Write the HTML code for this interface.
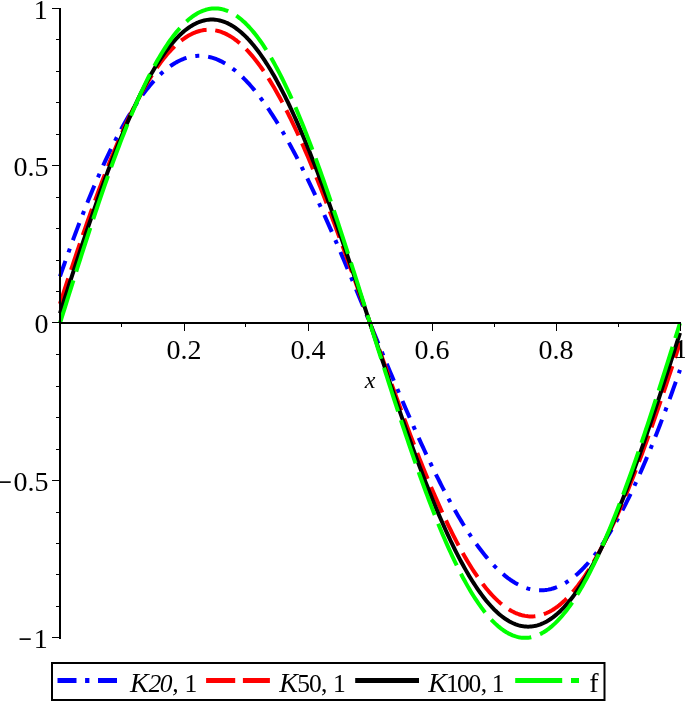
<!DOCTYPE html>
<html><head><meta charset="utf-8"><title>plot</title>
<style>html,body{margin:0;padding:0;background:#fff;}svg{display:block;}</style></head><body>
<svg width="685" height="701" viewBox="0 0 685 701">
<rect width="685" height="701" fill="#fff"/>
<path d="M60.00,276.37 L61.55,271.92 L63.10,267.50 L64.65,263.11 L66.20,258.75 L67.75,254.42 L69.30,250.12 L70.85,245.86 L72.40,241.63 L73.95,237.43 L75.50,233.27 L77.05,229.15 L78.60,225.06 L80.15,221.01 L81.70,216.99 L83.25,213.02 L84.80,209.08 L86.35,205.18 L87.90,201.32 L89.45,197.51 L91.00,193.73 L92.55,190.00 L94.10,186.31 L95.65,182.66 L97.20,179.05 L98.75,175.49 L100.30,171.97 L101.85,168.50 L103.40,165.07 L104.95,161.69 L106.50,158.36 L108.05,155.07 L109.60,151.83 L111.15,148.64 L112.70,145.49 L114.25,142.40 L115.80,139.35 L117.35,136.36 L118.90,133.41 L120.45,130.51 L122.00,127.67 L123.55,124.87 L125.10,122.13 L126.65,119.44 L128.20,116.80 L129.75,114.22 L131.30,111.68 L132.85,109.20 L134.40,106.78 L135.95,104.41 L137.50,102.09 L139.05,99.82 L140.60,97.62 L142.15,95.46 L143.70,93.36 L145.25,91.32 L146.80,89.33 L148.35,87.40 L149.90,85.52 L151.45,83.70 L153.00,81.94 L154.55,80.23 L156.10,78.59 L157.65,76.99 L159.20,75.46 L160.75,73.98 L162.30,72.56 L163.85,71.20 L165.40,69.89 L166.95,68.64 L168.50,67.45 L170.05,66.32 L171.60,65.25 L173.15,64.23 L174.70,63.27 L176.25,62.37 L177.80,61.53 L179.35,60.74 L180.90,60.02 L182.45,59.35 L184.00,58.74 L185.55,58.19 L187.10,57.70 L188.65,57.26 L190.20,56.88 L191.75,56.56 L193.30,56.30 L194.85,56.10 L196.40,55.95 L197.95,55.86 L199.50,55.83 L201.05,55.86 L202.60,55.94 L204.15,56.08 L205.70,56.28 L207.25,56.53 L208.80,56.84 L210.35,57.21 L211.90,57.63 L213.45,58.11 L215.00,58.64 L216.55,59.23 L218.10,59.88 L219.65,60.58 L221.20,61.33 L222.75,62.14 L224.30,63.01 L225.85,63.93 L227.40,64.90 L228.95,65.92 L230.50,67.00 L232.05,68.13 L233.60,69.32 L235.15,70.55 L236.70,71.84 L238.25,73.18 L239.80,74.57 L241.35,76.01 L242.90,77.51 L244.45,79.05 L246.00,80.64 L247.55,82.28 L249.10,83.97 L250.65,85.71 L252.20,87.50 L253.75,89.34 L255.30,91.22 L256.85,93.15 L258.40,95.12 L259.95,97.14 L261.50,99.21 L263.05,101.32 L264.60,103.48 L266.15,105.68 L267.70,107.92 L269.25,110.21 L270.80,112.54 L272.35,114.91 L273.90,117.33 L275.45,119.78 L277.00,122.28 L278.55,124.81 L280.10,127.39 L281.65,130.00 L283.20,132.65 L284.75,135.34 L286.30,138.07 L287.85,140.83 L289.40,143.63 L290.95,146.47 L292.50,149.34 L294.05,152.24 L295.60,155.18 L297.15,158.15 L298.70,161.16 L300.25,164.19 L301.80,167.26 L303.35,170.36 L304.90,173.49 L306.45,176.64 L308.00,179.83 L309.55,183.04 L311.10,186.29 L312.65,189.55 L314.20,192.85 L315.75,196.17 L317.30,199.51 L318.85,202.88 L320.40,206.28 L321.95,209.69 L323.50,213.13 L325.05,216.59 L326.60,220.07 L328.15,223.57 L329.70,227.09 L331.25,230.63 L332.80,234.18 L334.35,237.76 L335.90,241.35 L337.45,244.96 L339.00,248.58 L340.55,252.21 L342.10,255.86 L343.65,259.53 L345.20,263.20 L346.75,266.89 L348.30,270.59 L349.85,274.29 L351.40,278.01 L352.95,281.74 L354.50,285.47 L356.05,289.22 L357.60,292.96 L359.15,296.72 L360.70,300.48 L362.25,304.24 L363.80,308.01 L365.35,311.78 L366.90,315.55 L368.45,319.33 L370.00,323.10 L371.55,326.87 L373.10,330.65 L374.65,334.42 L376.20,338.19 L377.75,341.96 L379.30,345.72 L380.85,349.48 L382.40,353.24 L383.95,356.98 L385.50,360.73 L387.05,364.46 L388.60,368.19 L390.15,371.91 L391.70,375.61 L393.25,379.31 L394.80,383.00 L396.35,386.67 L397.90,390.34 L399.45,393.99 L401.00,397.62 L402.55,401.24 L404.10,404.85 L405.65,408.44 L407.20,412.02 L408.75,415.57 L410.30,419.11 L411.85,422.63 L413.40,426.13 L414.95,429.61 L416.50,433.07 L418.05,436.51 L419.60,439.92 L421.15,443.32 L422.70,446.69 L424.25,450.03 L425.80,453.35 L427.35,456.65 L428.90,459.91 L430.45,463.16 L432.00,466.37 L433.55,469.56 L435.10,472.71 L436.65,475.84 L438.20,478.94 L439.75,482.01 L441.30,485.04 L442.85,488.05 L444.40,491.02 L445.95,493.96 L447.50,496.86 L449.05,499.73 L450.60,502.57 L452.15,505.37 L453.70,508.13 L455.25,510.86 L456.80,513.55 L458.35,516.20 L459.90,518.81 L461.45,521.39 L463.00,523.92 L464.55,526.42 L466.10,528.87 L467.65,531.29 L469.20,533.66 L470.75,535.99 L472.30,538.28 L473.85,540.52 L475.40,542.72 L476.95,544.88 L478.50,546.99 L480.05,549.06 L481.60,551.08 L483.15,553.05 L484.70,554.98 L486.25,556.86 L487.80,558.70 L489.35,560.49 L490.90,562.23 L492.45,563.92 L494.00,565.56 L495.55,567.15 L497.10,568.69 L498.65,570.19 L500.20,571.63 L501.75,573.02 L503.30,574.36 L504.85,575.65 L506.40,576.88 L507.95,578.07 L509.50,579.20 L511.05,580.28 L512.60,581.30 L514.15,582.27 L515.70,583.19 L517.25,584.06 L518.80,584.87 L520.35,585.62 L521.90,586.32 L523.45,586.97 L525.00,587.56 L526.55,588.09 L528.10,588.57 L529.65,588.99 L531.20,589.36 L532.75,589.67 L534.30,589.92 L535.85,590.12 L537.40,590.26 L538.95,590.34 L540.50,590.37 L542.05,590.34 L543.60,590.25 L545.15,590.10 L546.70,589.90 L548.25,589.64 L549.80,589.32 L551.35,588.94 L552.90,588.50 L554.45,588.01 L556.00,587.46 L557.55,586.85 L559.10,586.18 L560.65,585.46 L562.20,584.67 L563.75,583.83 L565.30,582.93 L566.85,581.97 L568.40,580.95 L569.95,579.88 L571.50,578.75 L573.05,577.56 L574.60,576.31 L576.15,575.00 L577.70,573.64 L579.25,572.22 L580.80,570.74 L582.35,569.21 L583.90,567.61 L585.45,565.97 L587.00,564.26 L588.55,562.50 L590.10,560.68 L591.65,558.80 L593.20,556.87 L594.75,554.88 L596.30,552.84 L597.85,550.74 L599.40,548.58 L600.95,546.38 L602.50,544.11 L604.05,541.79 L605.60,539.42 L607.15,537.00 L608.70,534.52 L610.25,531.98 L611.80,529.40 L613.35,526.76 L614.90,524.07 L616.45,521.33 L618.00,518.53 L619.55,515.69 L621.10,512.79 L622.65,509.84 L624.20,506.85 L625.75,503.80 L627.30,500.71 L628.85,497.56 L630.40,494.37 L631.95,491.13 L633.50,487.84 L635.05,484.51 L636.60,481.13 L638.15,477.70 L639.70,474.23 L641.25,470.71 L642.80,467.15 L644.35,463.54 L645.90,459.89 L647.45,456.20 L649.00,452.47 L650.55,448.69 L652.10,444.88 L653.65,441.02 L655.20,437.12 L656.75,433.18 L658.30,429.21 L659.85,425.19 L661.40,421.14 L662.95,417.05 L664.50,412.93 L666.05,408.77 L667.60,404.57 L669.15,400.34 L670.70,396.08 L672.25,391.78 L673.80,387.45 L675.35,383.09 L676.90,378.70 L678.45,374.28 L680.00,369.83" fill="none" stroke="#0000ff" stroke-width="4" stroke-linejoin="round" stroke-dasharray="18.4 9 4 8.93" stroke-dashoffset="2.0"/>
<path d="M60.00,303.74 L61.55,298.94 L63.10,294.16 L64.65,289.39 L66.20,284.64 L67.75,279.91 L69.30,275.20 L70.85,270.50 L72.40,265.83 L73.95,261.18 L75.50,256.55 L77.05,251.94 L78.60,247.36 L80.15,242.80 L81.70,238.27 L83.25,233.77 L84.80,229.30 L86.35,224.85 L87.90,220.44 L89.45,216.06 L91.00,211.71 L92.55,207.39 L94.10,203.11 L95.65,198.86 L97.20,194.65 L98.75,190.47 L100.30,186.33 L101.85,182.24 L103.40,178.18 L104.95,174.16 L106.50,170.18 L108.05,166.24 L109.60,162.34 L111.15,158.49 L112.70,154.69 L114.25,150.92 L115.80,147.21 L117.35,143.54 L118.90,139.91 L120.45,136.34 L122.00,132.81 L123.55,129.34 L125.10,125.91 L126.65,122.54 L128.20,119.21 L129.75,115.94 L131.30,112.72 L132.85,109.55 L134.40,106.44 L135.95,103.39 L137.50,100.39 L139.05,97.44 L140.60,94.55 L142.15,91.72 L143.70,88.95 L145.25,86.23 L146.80,83.57 L148.35,80.97 L149.90,78.44 L151.45,75.96 L153.00,73.54 L154.55,71.18 L156.10,68.89 L157.65,66.66 L159.20,64.49 L160.75,62.38 L162.30,60.33 L163.85,58.35 L165.40,56.44 L166.95,54.59 L168.50,52.80 L170.05,51.08 L171.60,49.42 L173.15,47.83 L174.70,46.30 L176.25,44.84 L177.80,43.45 L179.35,42.12 L180.90,40.86 L182.45,39.67 L184.00,38.54 L185.55,37.49 L187.10,36.50 L188.65,35.57 L190.20,34.72 L191.75,33.93 L193.30,33.21 L194.85,32.56 L196.40,31.98 L197.95,31.47 L199.50,31.02 L201.05,30.64 L202.60,30.34 L204.15,30.10 L205.70,29.92 L207.25,29.82 L208.80,29.79 L210.35,29.82 L211.90,29.92 L213.45,30.09 L215.00,30.33 L216.55,30.63 L218.10,31.01 L219.65,31.45 L221.20,31.95 L222.75,32.53 L224.30,33.17 L225.85,33.88 L227.40,34.66 L228.95,35.50 L230.50,36.41 L232.05,37.38 L233.60,38.43 L235.15,39.53 L236.70,40.70 L238.25,41.94 L239.80,43.24 L241.35,44.60 L242.90,46.03 L244.45,47.52 L246.00,49.08 L247.55,50.69 L249.10,52.37 L250.65,54.12 L252.20,55.92 L253.75,57.78 L255.30,59.71 L256.85,61.69 L258.40,63.73 L259.95,65.84 L261.50,68.00 L263.05,70.22 L264.60,72.49 L266.15,74.83 L267.70,77.21 L269.25,79.66 L270.80,82.16 L272.35,84.72 L273.90,87.33 L275.45,89.99 L277.00,92.70 L278.55,95.47 L280.10,98.29 L281.65,101.16 L283.20,104.08 L284.75,107.05 L286.30,110.07 L287.85,113.13 L289.40,116.25 L290.95,119.41 L292.50,122.62 L294.05,125.87 L295.60,129.16 L297.15,132.50 L298.70,135.89 L300.25,139.31 L301.80,142.78 L303.35,146.28 L304.90,149.83 L306.45,153.42 L308.00,157.04 L309.55,160.70 L311.10,164.40 L312.65,168.13 L314.20,171.90 L315.75,175.70 L317.30,179.54 L318.85,183.40 L320.40,187.30 L321.95,191.23 L323.50,195.19 L325.05,199.18 L326.60,203.19 L328.15,207.23 L329.70,211.30 L331.25,215.40 L332.80,219.51 L334.35,223.65 L335.90,227.82 L337.45,232.00 L339.00,236.20 L340.55,240.43 L342.10,244.67 L343.65,248.93 L345.20,253.21 L346.75,257.50 L348.30,261.81 L349.85,266.13 L351.40,270.46 L352.95,274.81 L354.50,279.16 L356.05,283.53 L357.60,287.90 L359.15,292.28 L360.70,296.67 L362.25,301.07 L363.80,305.47 L365.35,309.87 L366.90,314.28 L368.45,318.69 L370.00,323.10 L371.55,327.51 L373.10,331.92 L374.65,336.33 L376.20,340.73 L377.75,345.13 L379.30,349.53 L380.85,353.92 L382.40,358.30 L383.95,362.67 L385.50,367.04 L387.05,371.39 L388.60,375.74 L390.15,380.07 L391.70,384.39 L393.25,388.70 L394.80,392.99 L396.35,397.27 L397.90,401.53 L399.45,405.77 L401.00,410.00 L402.55,414.20 L404.10,418.38 L405.65,422.55 L407.20,426.69 L408.75,430.80 L410.30,434.90 L411.85,438.97 L413.40,443.01 L414.95,447.02 L416.50,451.01 L418.05,454.97 L419.60,458.90 L421.15,462.80 L422.70,466.66 L424.25,470.50 L425.80,474.30 L427.35,478.07 L428.90,481.80 L430.45,485.50 L432.00,489.16 L433.55,492.78 L435.10,496.37 L436.65,499.92 L438.20,503.42 L439.75,506.89 L441.30,510.31 L442.85,513.70 L444.40,517.04 L445.95,520.33 L447.50,523.58 L449.05,526.79 L450.60,529.95 L452.15,533.07 L453.70,536.13 L455.25,539.15 L456.80,542.12 L458.35,545.04 L459.90,547.91 L461.45,550.73 L463.00,553.50 L464.55,556.21 L466.10,558.87 L467.65,561.48 L469.20,564.04 L470.75,566.54 L472.30,568.99 L473.85,571.37 L475.40,573.71 L476.95,575.98 L478.50,578.20 L480.05,580.36 L481.60,582.47 L483.15,584.51 L484.70,586.49 L486.25,588.42 L487.80,590.28 L489.35,592.08 L490.90,593.83 L492.45,595.51 L494.00,597.12 L495.55,598.68 L497.10,600.17 L498.65,601.60 L500.20,602.96 L501.75,604.26 L503.30,605.50 L504.85,606.67 L506.40,607.77 L507.95,608.82 L509.50,609.79 L511.05,610.70 L512.60,611.54 L514.15,612.32 L515.70,613.03 L517.25,613.67 L518.80,614.25 L520.35,614.75 L521.90,615.19 L523.45,615.57 L525.00,615.87 L526.55,616.11 L528.10,616.28 L529.65,616.38 L531.20,616.41 L532.75,616.38 L534.30,616.28 L535.85,616.10 L537.40,615.86 L538.95,615.56 L540.50,615.18 L542.05,614.73 L543.60,614.22 L545.15,613.64 L546.70,612.99 L548.25,612.27 L549.80,611.48 L551.35,610.63 L552.90,609.70 L554.45,608.71 L556.00,607.66 L557.55,606.53 L559.10,605.34 L560.65,604.08 L562.20,602.75 L563.75,601.36 L565.30,599.90 L566.85,598.37 L568.40,596.78 L569.95,595.12 L571.50,593.40 L573.05,591.61 L574.60,589.76 L576.15,587.85 L577.70,585.87 L579.25,583.82 L580.80,581.71 L582.35,579.54 L583.90,577.31 L585.45,575.02 L587.00,572.66 L588.55,570.24 L590.10,567.76 L591.65,565.23 L593.20,562.63 L594.75,559.97 L596.30,557.25 L597.85,554.48 L599.40,551.65 L600.95,548.76 L602.50,545.81 L604.05,542.81 L605.60,539.76 L607.15,536.65 L608.70,533.48 L610.25,530.26 L611.80,526.99 L613.35,523.66 L614.90,520.29 L616.45,516.86 L618.00,513.39 L619.55,509.86 L621.10,506.29 L622.65,502.66 L624.20,498.99 L625.75,495.28 L627.30,491.51 L628.85,487.71 L630.40,483.86 L631.95,479.96 L633.50,476.02 L635.05,472.04 L636.60,468.02 L638.15,463.96 L639.70,459.87 L641.25,455.73 L642.80,451.55 L644.35,447.34 L645.90,443.09 L647.45,438.81 L649.00,434.49 L650.55,430.14 L652.10,425.76 L653.65,421.35 L655.20,416.90 L656.75,412.43 L658.30,407.93 L659.85,403.40 L661.40,398.84 L662.95,394.26 L664.50,389.65 L666.05,385.02 L667.60,380.37 L669.15,375.70 L670.70,371.00 L672.25,366.29 L673.80,361.56 L675.35,356.81 L676.90,352.04 L678.45,347.26 L680.00,342.46" fill="none" stroke="#ff0000" stroke-width="4" stroke-linejoin="round" stroke-dasharray="28.0 8.7" stroke-dashoffset="1.2"/>
<path d="M60.00,313.31 L61.55,308.43 L63.10,303.56 L64.65,298.70 L66.20,293.85 L67.75,289.01 L69.30,284.18 L70.85,279.37 L72.40,274.57 L73.95,269.79 L75.50,265.02 L77.05,260.27 L78.60,255.55 L80.15,250.84 L81.70,246.15 L83.25,241.49 L84.80,236.85 L86.35,232.23 L87.90,227.64 L89.45,223.08 L91.00,218.55 L92.55,214.04 L94.10,209.56 L95.65,205.12 L97.20,200.71 L98.75,196.33 L100.30,191.98 L101.85,187.67 L103.40,183.40 L104.95,179.16 L106.50,174.96 L108.05,170.80 L109.60,166.68 L111.15,162.60 L112.70,158.56 L114.25,154.56 L115.80,150.61 L117.35,146.70 L118.90,142.84 L120.45,139.02 L122.00,135.25 L123.55,131.53 L125.10,127.85 L126.65,124.23 L128.20,120.66 L129.75,117.13 L131.30,113.66 L132.85,110.25 L134.40,106.88 L135.95,103.57 L137.50,100.32 L139.05,97.12 L140.60,93.97 L142.15,90.89 L143.70,87.86 L145.25,84.89 L146.80,81.98 L148.35,79.13 L149.90,76.34 L151.45,73.61 L153.00,70.94 L154.55,68.33 L156.10,65.79 L157.65,63.31 L159.20,60.89 L160.75,58.54 L162.30,56.26 L163.85,54.03 L165.40,51.88 L166.95,49.79 L168.50,47.77 L170.05,45.81 L171.60,43.92 L173.15,42.10 L174.70,40.35 L176.25,38.67 L177.80,37.06 L179.35,35.51 L180.90,34.04 L182.45,32.63 L184.00,31.30 L185.55,30.04 L187.10,28.84 L188.65,27.72 L190.20,26.67 L191.75,25.69 L193.30,24.79 L194.85,23.95 L196.40,23.19 L197.95,22.50 L199.50,21.88 L201.05,21.34 L202.60,20.86 L204.15,20.46 L205.70,20.14 L207.25,19.88 L208.80,19.70 L210.35,19.59 L211.90,19.55 L213.45,19.59 L215.00,19.70 L216.55,19.88 L218.10,20.13 L219.65,20.46 L221.20,20.86 L222.75,21.33 L224.30,21.87 L225.85,22.49 L227.40,23.17 L228.95,23.93 L230.50,24.76 L232.05,25.66 L233.60,26.63 L235.15,27.67 L236.70,28.79 L238.25,29.97 L239.80,31.22 L241.35,32.54 L242.90,33.93 L244.45,35.39 L246.00,36.92 L247.55,38.51 L249.10,40.18 L250.65,41.91 L252.20,43.71 L253.75,45.57 L255.30,47.50 L256.85,49.49 L258.40,51.55 L259.95,53.67 L261.50,55.86 L263.05,58.11 L264.60,60.43 L266.15,62.80 L267.70,65.24 L269.25,67.74 L270.80,70.30 L272.35,72.91 L273.90,75.59 L275.45,78.33 L277.00,81.12 L278.55,83.97 L280.10,86.88 L281.65,89.84 L283.20,92.86 L284.75,95.93 L286.30,99.06 L287.85,102.24 L289.40,105.47 L290.95,108.75 L292.50,112.09 L294.05,115.47 L295.60,118.90 L297.15,122.38 L298.70,125.91 L300.25,129.48 L301.80,133.10 L303.35,136.76 L304.90,140.47 L306.45,144.22 L308.00,148.02 L309.55,151.85 L311.10,155.72 L312.65,159.64 L314.20,163.59 L315.75,167.58 L317.30,171.61 L318.85,175.67 L320.40,179.77 L321.95,183.90 L323.50,188.06 L325.05,192.26 L326.60,196.48 L328.15,200.74 L329.70,205.02 L331.25,209.33 L332.80,213.67 L334.35,218.04 L335.90,222.43 L337.45,226.84 L339.00,231.27 L340.55,235.73 L342.10,240.21 L343.65,244.71 L345.20,249.22 L346.75,253.76 L348.30,258.30 L349.85,262.87 L351.40,267.45 L352.95,272.04 L354.50,276.64 L356.05,281.26 L357.60,285.88 L359.15,290.52 L360.70,295.16 L362.25,299.80 L363.80,304.46 L365.35,309.11 L366.90,313.77 L368.45,318.44 L370.00,323.10 L371.55,327.76 L373.10,332.43 L374.65,337.09 L376.20,341.74 L377.75,346.40 L379.30,351.04 L380.85,355.68 L382.40,360.32 L383.95,364.94 L385.50,369.56 L387.05,374.16 L388.60,378.75 L390.15,383.33 L391.70,387.90 L393.25,392.44 L394.80,396.98 L396.35,401.49 L397.90,405.99 L399.45,410.47 L401.00,414.93 L402.55,419.36 L404.10,423.77 L405.65,428.16 L407.20,432.53 L408.75,436.87 L410.30,441.18 L411.85,445.46 L413.40,449.72 L414.95,453.94 L416.50,458.14 L418.05,462.30 L419.60,466.43 L421.15,470.53 L422.70,474.59 L424.25,478.62 L425.80,482.61 L427.35,486.56 L428.90,490.48 L430.45,494.35 L432.00,498.18 L433.55,501.98 L435.10,505.73 L436.65,509.44 L438.20,513.10 L439.75,516.72 L441.30,520.29 L442.85,523.82 L444.40,527.30 L445.95,530.73 L447.50,534.11 L449.05,537.45 L450.60,540.73 L452.15,543.96 L453.70,547.14 L455.25,550.27 L456.80,553.34 L458.35,556.36 L459.90,559.32 L461.45,562.23 L463.00,565.08 L464.55,567.87 L466.10,570.61 L467.65,573.29 L469.20,575.90 L470.75,578.46 L472.30,580.96 L473.85,583.40 L475.40,585.77 L476.95,588.09 L478.50,590.34 L480.05,592.53 L481.60,594.65 L483.15,596.71 L484.70,598.70 L486.25,600.63 L487.80,602.49 L489.35,604.29 L490.90,606.02 L492.45,607.69 L494.00,609.28 L495.55,610.81 L497.10,612.27 L498.65,613.66 L500.20,614.98 L501.75,616.23 L503.30,617.41 L504.85,618.53 L506.40,619.57 L507.95,620.54 L509.50,621.44 L511.05,622.27 L512.60,623.03 L514.15,623.71 L515.70,624.33 L517.25,624.87 L518.80,625.34 L520.35,625.74 L521.90,626.07 L523.45,626.32 L525.00,626.50 L526.55,626.61 L528.10,626.65 L529.65,626.61 L531.20,626.50 L532.75,626.32 L534.30,626.06 L535.85,625.74 L537.40,625.34 L538.95,624.86 L540.50,624.32 L542.05,623.70 L543.60,623.01 L545.15,622.25 L546.70,621.41 L548.25,620.51 L549.80,619.53 L551.35,618.48 L552.90,617.36 L554.45,616.16 L556.00,614.90 L557.55,613.57 L559.10,612.16 L560.65,610.69 L562.20,609.14 L563.75,607.53 L565.30,605.85 L566.85,604.10 L568.40,602.28 L569.95,600.39 L571.50,598.43 L573.05,596.41 L574.60,594.32 L576.15,592.17 L577.70,589.94 L579.25,587.66 L580.80,585.31 L582.35,582.89 L583.90,580.41 L585.45,577.87 L587.00,575.26 L588.55,572.59 L590.10,569.86 L591.65,567.07 L593.20,564.22 L594.75,561.31 L596.30,558.34 L597.85,555.31 L599.40,552.23 L600.95,549.08 L602.50,545.88 L604.05,542.63 L605.60,539.32 L607.15,535.95 L608.70,532.54 L610.25,529.07 L611.80,525.54 L613.35,521.97 L614.90,518.35 L616.45,514.67 L618.00,510.95 L619.55,507.18 L621.10,503.36 L622.65,499.50 L624.20,495.59 L625.75,491.64 L627.30,487.64 L628.85,483.60 L630.40,479.52 L631.95,475.40 L633.50,471.24 L635.05,467.04 L636.60,462.80 L638.15,458.53 L639.70,454.22 L641.25,449.87 L642.80,445.49 L644.35,441.08 L645.90,436.64 L647.45,432.16 L649.00,427.65 L650.55,423.12 L652.10,418.56 L653.65,413.97 L655.20,409.35 L656.75,404.71 L658.30,400.05 L659.85,395.36 L661.40,390.65 L662.95,385.93 L664.50,381.18 L666.05,376.41 L667.60,371.63 L669.15,366.83 L670.70,362.02 L672.25,357.19 L673.80,352.35 L675.35,347.50 L676.90,342.64 L678.45,337.77 L680.00,332.89" fill="none" stroke="#000000" stroke-width="4" stroke-linejoin="round"/>
<path d="M60.00,323.10 L61.55,318.16 L63.10,313.22 L64.65,308.28 L66.20,303.34 L67.75,298.41 L69.30,293.48 L70.85,288.57 L72.40,283.66 L73.95,278.76 L75.50,273.87 L77.05,268.99 L78.60,264.13 L80.15,259.28 L81.70,254.45 L83.25,249.63 L84.80,244.84 L86.35,240.06 L87.90,235.30 L89.45,230.57 L91.00,225.85 L92.55,221.16 L94.10,216.50 L95.65,211.86 L97.20,207.25 L98.75,202.67 L100.30,198.12 L101.85,193.60 L103.40,189.11 L104.95,184.65 L106.50,180.23 L108.05,175.84 L109.60,171.49 L111.15,167.18 L112.70,162.90 L114.25,158.67 L115.80,154.48 L117.35,150.32 L118.90,146.21 L120.45,142.15 L122.00,138.12 L123.55,134.15 L125.10,130.22 L126.65,126.34 L128.20,122.50 L129.75,118.72 L131.30,114.99 L132.85,111.30 L134.40,107.67 L135.95,104.10 L137.50,100.57 L139.05,97.11 L140.60,93.69 L142.15,90.34 L143.70,87.04 L145.25,83.80 L146.80,80.62 L148.35,77.50 L149.90,74.44 L151.45,71.44 L153.00,68.50 L154.55,65.63 L156.10,62.82 L157.65,60.07 L159.20,57.39 L160.75,54.77 L162.30,52.22 L163.85,49.74 L165.40,47.33 L166.95,44.98 L168.50,42.70 L170.05,40.49 L171.60,38.35 L173.15,36.28 L174.70,34.28 L176.25,32.36 L177.80,30.50 L179.35,28.72 L180.90,27.00 L182.45,25.37 L184.00,23.80 L185.55,22.31 L187.10,20.90 L188.65,19.55 L190.20,18.29 L191.75,17.10 L193.30,15.98 L194.85,14.94 L196.40,13.97 L197.95,13.09 L199.50,12.27 L201.05,11.54 L202.60,10.88 L204.15,10.30 L205.70,9.80 L207.25,9.37 L208.80,9.02 L210.35,8.75 L211.90,8.56 L213.45,8.44 L215.00,8.40 L216.55,8.44 L218.10,8.56 L219.65,8.75 L221.20,9.02 L222.75,9.37 L224.30,9.80 L225.85,10.30 L227.40,10.88 L228.95,11.54 L230.50,12.27 L232.05,13.09 L233.60,13.97 L235.15,14.94 L236.70,15.98 L238.25,17.10 L239.80,18.29 L241.35,19.55 L242.90,20.90 L244.45,22.31 L246.00,23.80 L247.55,25.37 L249.10,27.00 L250.65,28.72 L252.20,30.50 L253.75,32.36 L255.30,34.28 L256.85,36.28 L258.40,38.35 L259.95,40.49 L261.50,42.70 L263.05,44.98 L264.60,47.33 L266.15,49.74 L267.70,52.22 L269.25,54.77 L270.80,57.39 L272.35,60.07 L273.90,62.82 L275.45,65.63 L277.00,68.50 L278.55,71.44 L280.10,74.44 L281.65,77.50 L283.20,80.62 L284.75,83.80 L286.30,87.04 L287.85,90.34 L289.40,93.69 L290.95,97.11 L292.50,100.57 L294.05,104.10 L295.60,107.67 L297.15,111.30 L298.70,114.99 L300.25,118.72 L301.80,122.50 L303.35,126.34 L304.90,130.22 L306.45,134.15 L308.00,138.12 L309.55,142.15 L311.10,146.21 L312.65,150.32 L314.20,154.48 L315.75,158.67 L317.30,162.90 L318.85,167.18 L320.40,171.49 L321.95,175.84 L323.50,180.23 L325.05,184.65 L326.60,189.11 L328.15,193.60 L329.70,198.12 L331.25,202.67 L332.80,207.25 L334.35,211.86 L335.90,216.50 L337.45,221.16 L339.00,225.85 L340.55,230.57 L342.10,235.30 L343.65,240.06 L345.20,244.84 L346.75,249.63 L348.30,254.45 L349.85,259.28 L351.40,264.13 L352.95,268.99 L354.50,273.87 L356.05,278.76 L357.60,283.66 L359.15,288.57 L360.70,293.48 L362.25,298.41 L363.80,303.34 L365.35,308.28 L366.90,313.22 L368.45,318.16 L370.00,323.10 L371.55,328.04 L373.10,332.98 L374.65,337.92 L376.20,342.86 L377.75,347.79 L379.30,352.72 L380.85,357.63 L382.40,362.54 L383.95,367.44 L385.50,372.33 L387.05,377.21 L388.60,382.07 L390.15,386.92 L391.70,391.75 L393.25,396.57 L394.80,401.36 L396.35,406.14 L397.90,410.90 L399.45,415.63 L401.00,420.35 L402.55,425.04 L404.10,429.70 L405.65,434.34 L407.20,438.95 L408.75,443.53 L410.30,448.08 L411.85,452.60 L413.40,457.09 L414.95,461.55 L416.50,465.97 L418.05,470.36 L419.60,474.71 L421.15,479.02 L422.70,483.30 L424.25,487.53 L425.80,491.72 L427.35,495.88 L428.90,499.99 L430.45,504.05 L432.00,508.08 L433.55,512.05 L435.10,515.98 L436.65,519.86 L438.20,523.70 L439.75,527.48 L441.30,531.21 L442.85,534.90 L444.40,538.53 L445.95,542.10 L447.50,545.63 L449.05,549.09 L450.60,552.51 L452.15,555.86 L453.70,559.16 L455.25,562.40 L456.80,565.58 L458.35,568.70 L459.90,571.76 L461.45,574.76 L463.00,577.70 L464.55,580.57 L466.10,583.38 L467.65,586.13 L469.20,588.81 L470.75,591.43 L472.30,593.98 L473.85,596.46 L475.40,598.87 L476.95,601.22 L478.50,603.50 L480.05,605.71 L481.60,607.85 L483.15,609.92 L484.70,611.92 L486.25,613.84 L487.80,615.70 L489.35,617.48 L490.90,619.20 L492.45,620.83 L494.00,622.40 L495.55,623.89 L497.10,625.30 L498.65,626.65 L500.20,627.91 L501.75,629.10 L503.30,630.22 L504.85,631.26 L506.40,632.23 L507.95,633.11 L509.50,633.93 L511.05,634.66 L512.60,635.32 L514.15,635.90 L515.70,636.40 L517.25,636.83 L518.80,637.18 L520.35,637.45 L521.90,637.64 L523.45,637.76 L525.00,637.80 L526.55,637.76 L528.10,637.64 L529.65,637.45 L531.20,637.18 L532.75,636.83 L534.30,636.40 L535.85,635.90 L537.40,635.32 L538.95,634.66 L540.50,633.93 L542.05,633.11 L543.60,632.23 L545.15,631.26 L546.70,630.22 L548.25,629.10 L549.80,627.91 L551.35,626.65 L552.90,625.30 L554.45,623.89 L556.00,622.40 L557.55,620.83 L559.10,619.20 L560.65,617.48 L562.20,615.70 L563.75,613.84 L565.30,611.92 L566.85,609.92 L568.40,607.85 L569.95,605.71 L571.50,603.50 L573.05,601.22 L574.60,598.87 L576.15,596.46 L577.70,593.98 L579.25,591.43 L580.80,588.81 L582.35,586.13 L583.90,583.38 L585.45,580.57 L587.00,577.70 L588.55,574.76 L590.10,571.76 L591.65,568.70 L593.20,565.58 L594.75,562.40 L596.30,559.16 L597.85,555.86 L599.40,552.51 L600.95,549.09 L602.50,545.63 L604.05,542.10 L605.60,538.53 L607.15,534.90 L608.70,531.21 L610.25,527.48 L611.80,523.70 L613.35,519.86 L614.90,515.98 L616.45,512.05 L618.00,508.08 L619.55,504.05 L621.10,499.99 L622.65,495.88 L624.20,491.72 L625.75,487.53 L627.30,483.30 L628.85,479.02 L630.40,474.71 L631.95,470.36 L633.50,465.97 L635.05,461.55 L636.60,457.09 L638.15,452.60 L639.70,448.08 L641.25,443.53 L642.80,438.95 L644.35,434.34 L645.90,429.70 L647.45,425.04 L649.00,420.35 L650.55,415.63 L652.10,410.90 L653.65,406.14 L655.20,401.36 L656.75,396.57 L658.30,391.75 L659.85,386.92 L661.40,382.07 L662.95,377.21 L664.50,372.33 L666.05,367.44 L667.60,362.54 L669.15,357.63 L670.70,352.72 L672.25,347.79 L673.80,342.86 L675.35,337.92 L676.90,332.98 L678.45,328.04 L680.00,323.10" fill="none" stroke="#00ff00" stroke-width="4" stroke-linejoin="round" stroke-dasharray="45.8 9.25" stroke-dashoffset="1.0"/>
<g stroke="#000" fill="none">
<line x1="60" y1="8" x2="60" y2="639" stroke-width="2"/>
<line x1="59" y1="323" x2="681" y2="323" stroke-width="2"/>
<line x1="52" y1="637.5" x2="60" y2="637.5" stroke-width="1"/>
<line x1="56" y1="606.5" x2="60" y2="606.5" stroke-width="1"/>
<line x1="56" y1="574.5" x2="60" y2="574.5" stroke-width="1"/>
<line x1="56" y1="543.5" x2="60" y2="543.5" stroke-width="1"/>
<line x1="56" y1="512.5" x2="60" y2="512.5" stroke-width="1"/>
<line x1="52" y1="480.5" x2="60" y2="480.5" stroke-width="1"/>
<line x1="56" y1="449.5" x2="60" y2="449.5" stroke-width="1"/>
<line x1="56" y1="417.5" x2="60" y2="417.5" stroke-width="1"/>
<line x1="56" y1="386.5" x2="60" y2="386.5" stroke-width="1"/>
<line x1="56" y1="354.5" x2="60" y2="354.5" stroke-width="1"/>
<line x1="52" y1="322.5" x2="60" y2="322.5" stroke-width="1"/>
<line x1="56" y1="291.5" x2="60" y2="291.5" stroke-width="1"/>
<line x1="56" y1="260.5" x2="60" y2="260.5" stroke-width="1"/>
<line x1="56" y1="228.5" x2="60" y2="228.5" stroke-width="1"/>
<line x1="56" y1="197.5" x2="60" y2="197.5" stroke-width="1"/>
<line x1="52" y1="165.5" x2="60" y2="165.5" stroke-width="1"/>
<line x1="56" y1="134.5" x2="60" y2="134.5" stroke-width="1"/>
<line x1="56" y1="102.5" x2="60" y2="102.5" stroke-width="1"/>
<line x1="56" y1="71.5" x2="60" y2="71.5" stroke-width="1"/>
<line x1="56" y1="39.5" x2="60" y2="39.5" stroke-width="1"/>
<line x1="52" y1="8.5" x2="60" y2="8.5" stroke-width="1"/>
<line x1="121.5" y1="323" x2="121.5" y2="327" stroke-width="1"/>
<line x1="184.5" y1="323" x2="184.5" y2="331" stroke-width="1"/>
<line x1="245.5" y1="323" x2="245.5" y2="327" stroke-width="1"/>
<line x1="308.5" y1="323" x2="308.5" y2="331" stroke-width="1"/>
<line x1="369.5" y1="323" x2="369.5" y2="327" stroke-width="1"/>
<line x1="432.5" y1="323" x2="432.5" y2="331" stroke-width="1"/>
<line x1="494.5" y1="323" x2="494.5" y2="327" stroke-width="1"/>
<line x1="556.5" y1="323" x2="556.5" y2="331" stroke-width="1"/>
<line x1="618.5" y1="323" x2="618.5" y2="327" stroke-width="1"/>
<line x1="680.5" y1="323" x2="680.5" y2="331" stroke-width="1"/>
</g>
<g font-family="'Liberation Serif', 'Times New Roman', serif" font-size="28" fill="#000">
<text x="47.8" y="19.4" text-anchor="end">1</text>
<text x="48.6" y="175.6" text-anchor="end">0.5</text>
<text x="48.6" y="333" text-anchor="end">0</text>
<text x="48.6" y="490.8" text-anchor="end"><tspan font-size="24" font-weight="bold" dy="-0.8">−</tspan><tspan dy="0.8" dx="1.5">0.5</tspan></text>
<text x="47.8" y="648" text-anchor="end"><tspan font-size="24" font-weight="bold" dy="-0.8">−</tspan><tspan dy="0.8" dx="1.5">1</tspan></text>
<text x="184" y="358.6" text-anchor="middle">0.2</text>
<text x="308" y="358.6" text-anchor="middle">0.4</text>
<text x="432" y="358.6" text-anchor="middle">0.6</text>
<text x="556" y="358.6" text-anchor="middle">0.8</text>
<text x="673.8" y="358.4">1</text>
</g>
<text x="370" y="387.6" text-anchor="middle" font-family="'Liberation Serif', 'Times New Roman', serif" font-style="italic" font-size="24">x</text>
<rect x="52" y="663" width="552.5" height="37" fill="#fff" stroke="#000" stroke-width="2"/>
<line x1="57.5" y1="680.5" x2="121.3" y2="680.5" stroke="#0000ff" stroke-width="5" stroke-dasharray="19 8.6 4.3 8.6"/>
<line x1="206.1" y1="680.5" x2="269.9" y2="680.5" stroke="#ff0000" stroke-width="5" stroke-dasharray="29.1 7.7"/>
<line x1="355.2" y1="680.5" x2="419.0" y2="680.5" stroke="#000" stroke-width="5"/>
<line x1="515.2" y1="680.5" x2="579.0" y2="680.5" stroke="#00ff00" stroke-width="5" stroke-dasharray="47 8.8"/>
<text y="691.8" font-family="'Liberation Serif', 'Times New Roman', serif" fill="#000"><tspan x="130.12" font-size="28" font-style="italic">K</tspan><tspan x="148.40" font-size="25.5" font-style="italic">2</tspan><tspan x="159.74" font-size="25.5" font-style="italic">0</tspan><tspan x="172.14" font-size="25.5" font-style="italic">,</tspan><tspan x="180.00" font-size="25.5"> </tspan><tspan x="184.42" font-size="25.5">1</tspan></text>
<text y="691.8" font-family="'Liberation Serif', 'Times New Roman', serif" fill="#000"><tspan x="279.22" font-size="28" font-style="italic">K</tspan><tspan x="297.28" font-size="25.5">5</tspan><tspan x="308.93" font-size="25.5">0</tspan><tspan x="320.88" font-size="25.5">,</tspan><tspan x="329.00" font-size="25.5"> </tspan><tspan x="332.92" font-size="25.5">1</tspan></text>
<text y="691.8" font-family="'Liberation Serif', 'Times New Roman', serif" fill="#000"><tspan x="428.27" font-size="28" font-style="italic">K</tspan><tspan x="445.92" font-size="25.5">1</tspan><tspan x="456.88" font-size="25.5">0</tspan><tspan x="468.57" font-size="25.5">0</tspan><tspan x="480.78" font-size="25.5">,</tspan><tspan x="489.00" font-size="25.5"> </tspan><tspan x="491.77" font-size="25.5">1</tspan></text>
<text x="589.16" y="691.8" font-family="'Liberation Serif', 'Times New Roman', serif" font-size="28" fill="#000">f</text>
</svg></body></html>
